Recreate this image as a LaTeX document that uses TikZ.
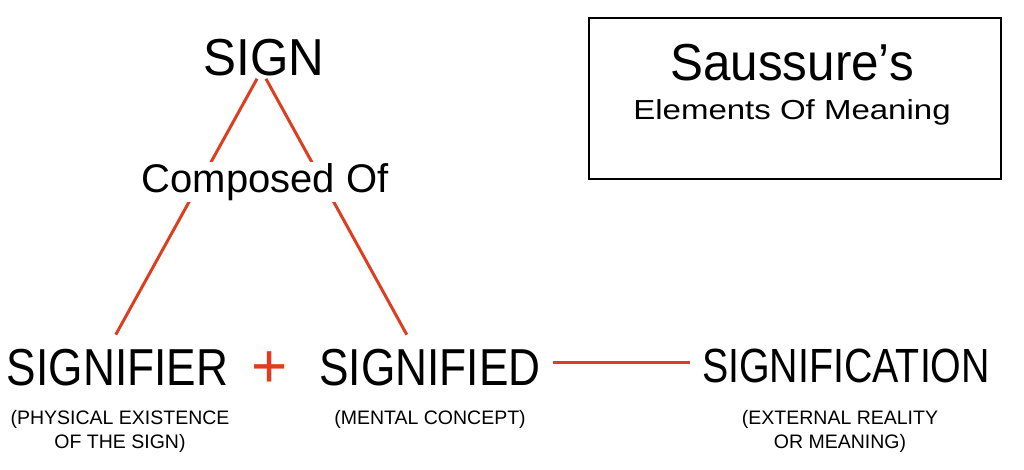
\documentclass[tikz,border=0pt]{standalone}
\usepackage{fontspec}
\setmainfont{Liberation Sans}
\newfontfamily\condfont[FakeStretch=0.85]{Liberation Sans}
\newfontfamily\condfontb[FakeStretch=0.82]{Liberation Sans}
\newfontfamily\titlefont[FakeStretch=0.95]{Liberation Sans}
\newfontfamily\widefont[FakeStretch=1.2]{Liberation Sans}
\definecolor{signred}{RGB}{221,62,32}

\tikzset{
  bigword/.style={anchor=base, inner sep=0pt, text height=37pt, text depth=0pt,
                  font=\condfont\fontsize{52}{52}\selectfont},
  note/.style={anchor=north, inner sep=0pt, align=center,
               font=\fontsize{19.5}{24}\selectfont},
  redline/.style={draw=signred, line width=3pt},
}

\begin{document}
\begin{tikzpicture}[x=1pt, y=-1pt]

  %% ════ 标题框 ════
  \node[draw, line width=1.2pt, minimum width=412pt, minimum height=161pt, inner sep=0pt] (titlebox) at (795,98.5) {};
  \node[anchor=base, inner sep=0pt, font=\titlefont\fontsize{52}{52}\selectfont] (saussure) at (792,80) {Saussure’s};
  \node[anchor=base, inner sep=0pt, font=\widefont\fontsize{27.5}{30}\selectfont] (elements) at (792,119) {Elements Of Meaning};

  %% ════ 三个词 ════
  \node[bigword, font=\titlefont\fontsize{52}{52}\selectfont] (sign) at (264,75) {SIGN};
  \node[bigword] (signifier) at (117.5,385) {SIGNIFIER};
  \node[bigword] (signified) at (430,385) {SIGNIFIED};
  \node[bigword, text height=34pt, font=\condfontb\fontsize{48}{48}\selectfont] (signification) at (846,382) {SIGNIFICATION};
  \node[inner sep=0pt, text=signred, font=\fontsize{62}{62}\selectfont] (plus) at (270,370) {+};

  %% ════ 连线（Composed Of 压在上面）════
  \draw[redline, shorten <=4pt, shorten >=15pt] ([xshift=-5pt]sign.south) -- ([xshift=-9pt]signifier.north);
  \draw[redline, shorten <=4pt, shorten >=15pt] ([xshift=0pt]sign.south) -- ([xshift=-16pt]signified.north);
  \draw[redline, shorten <=12pt, shorten >=12pt] ([yshift=4.5pt]signified.east) -- ([yshift=4.5pt]signified.east -| signification.west);

  \node[anchor=base, fill=white, inner xsep=2pt, inner ysep=1pt, text height=29pt, text depth=9pt,
        font=\fontsize{40}{40}\selectfont] (composed) at (265,192) {Composed Of};

  %% ════ 注释小字 ════
  \node[note] (physical) at (120,410) {(PHYSICAL EXISTENCE\\OF THE SIGN)};
  \node[note] (mental) at (430,410) {(MENTAL CONCEPT)};
  \node[note] (external) at (840,410) {(EXTERNAL REALITY\\OR MEANING)};

  % 钉死画布
  \pgfresetboundingbox
  \path[use as bounding box] (0,0) rectangle (1024,469);
\end{tikzpicture}
\end{document}
